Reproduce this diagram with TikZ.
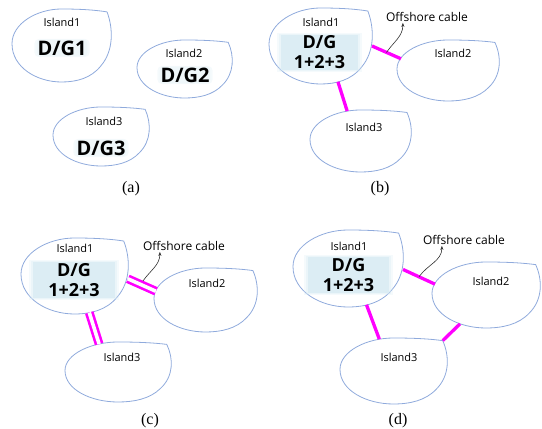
\documentclass[tikz,border=0pt]{standalone}
\usepackage{fontspec}
\setmainfont{Liberation Serif}
\newfontfamily\islfont{Open Sans}
\usetikzlibrary{shapes.geometric,arrows.meta,shadows}

\definecolor{islblue}{HTML}{8FAADC}
\definecolor{glowc}{HTML}{D8EBF3}
\definecolor{cablemag}{HTML}{FF00FF}

\tikzset{
  isl/.style={draw=islblue, line width=0.8pt},
  isl node/.style={ellipse, inner sep=0pt, outer sep=0pt},
  isl label/.style={font=\islfont\fontsize{11}{13}\selectfont},
  dg one/.style={font=\islfont\bfseries\fontsize{20}{22}\selectfont, inner sep=1pt,
    fill=glowc!40, rounded corners=4pt,
    general shadow={fill=glowc, fill opacity=.25, shadow scale=1.08}},
  dg box/.style={font=\islfont\bfseries\fontsize{18}{20}\selectfont, align=center,
    inner sep=0pt, fill=glowc!90,
    general shadow={fill=glowc, fill opacity=.35, shadow scale=1.05},
    general shadow={fill=glowc, fill opacity=.25, shadow scale=1.1}},
  cable/.style={draw=cablemag, line width=3.3pt},
  dcable/.style={draw=cablemag, line width=2.6pt, double=white, double distance=3.6pt},
  off label/.style={font=\islfont\fontsize{12}{14}\selectfont, inner sep=1pt},
  pointer/.style={draw=black!80, line width=0.6pt, -{Stealth[length=4pt,width=3pt]}},
  caption/.style={font=\fontsize{16}{18}\selectfont},
  pics/islandline/.style 2 args={code={
    \draw[isl] (0.92*#1,0.92*#2) .. controls (1.05*#1,0.45*#2) and (1.05*#1,-0.15*#2) .. (0.8*#1,-0.55*#2)
      .. controls (0.6*#1,-0.9*#2) and (0.3*#1,-#2) .. (0,-#2)
      .. controls (-0.5*#1,-#2) and (-#1,-0.6*#2) .. (-#1,0.05*#2)
      .. controls (-#1,0.6*#2) and (-0.5*#1,#2) .. (0,#2)
      .. controls (0.4*#1,#2) and (0.7*#1,0.97*#2) .. (0.92*#1,0.92*#2) -- cycle;
    \coordinate (-tip) at (0.92*#1,0.92*#2);
  }}
}

\begin{document}
\begin{tikzpicture}[x=1pt, y=1pt]
\useasboundingbox (0,0) rectangle (542,429);

% (a) separate islands
\node[isl node, minimum width=99, minimum height=73] (a1) at (61.5,383.5) {};
\pic (a1o) at (a1) {islandline={49.5}{36.5}};
\node[isl node, minimum width=95, minimum height=58] (a2) at (184.5,360) {};
\pic (a2o) at (a2) {islandline={47.5}{29}};
\node[isl node, minimum width=96, minimum height=59] (a3) at (101,292.5) {};
\pic (a3o) at (a3) {islandline={48}{29.5}};
\node[isl label] (a1n) at (62,407) {Island1};
\node[isl label] (a2n) at (184,376) {Island2};
\node[isl label] (a3n) at (104,308) {Island3};
\node[dg one] (a1g) at (62,381) {D/G1};
\node[dg one] (a2g) at (185,354) {D/G2};
\node[dg one] (a3g) at (101,281) {D/G3};
\node[caption] (capa) at (131,240) {(a)};

% (b) radial
\node[isl node, minimum width=103, minimum height=76] (b1) at (320.5,383) {};
\pic (b1o) at (b1) {islandline={51.5}{38}};
\node[isl node, minimum width=102, minimum height=61] (b2) at (448,358.5) {};
\pic (b2o) at (b2) {islandline={51}{30.5}};
\node[isl node, minimum width=101, minimum height=62] (b3) at (360.5,288) {};
\pic (b3o) at (b3) {islandline={50.5}{31}};
\node[isl label] (b1n) at (321,407) {Island1};
\node[isl label] (b2n) at (453,376) {Island2};
\node[isl label] (b3n) at (364,302) {Island3};
\node[dg box, minimum width=77, minimum height=35] (b1g) at (319.5,376.5) {D/G\\1+2+3};
\draw[cable] (b1.0) -- coordinate (bmid) (b2.166);
\draw[cable] (b1.-64) -- (b3.114);
\node[off label] (boff) at (427,412) {Offshore cable};
\draw[pointer] (bmid) to[out=55,in=-90] ([xshift=18]boff.south west);
\node[caption] (capb) at (380,240) {(b)};

% (c) radial, double cables
\node[isl node, minimum width=107, minimum height=76] (c1) at (74.5,153) {};
\pic (c1o) at (c1) {islandline={53.5}{38}};
\node[isl node, minimum width=103, minimum height=64] (c2) at (205.5,129) {};
\pic (c2o) at (c2) {islandline={51.5}{32}};
\node[isl node, minimum width=106, minimum height=60] (c3) at (118,57) {};
\pic (c3o) at (c3) {islandline={53}{30}};
\node[isl label] (c1n) at (75,181) {Island1};
\node[isl label] (c2n) at (207,146) {Island2};
\node[isl label] (c3n) at (122,72) {Island3};
\node[dg box, minimum width=82, minimum height=36] (c1g) at (74,149) {D/G\\1+2+3};
\draw[dcable] (c1.-3) -- coordinate (cmid) (c2.170);
\draw[dcable] (c1.-68) -- (c3.124);
\node[off label] (coff) at (184,183) {Offshore cable};
\draw[pointer] ([shift={(1,4)}]cmid) to[out=55,in=-90] ([xshift=18]coff.south west);
\node[caption] (capc) at (150,8) {(c)};

% (d) ring
\node[isl node, minimum width=110, minimum height=77] (d1) at (348,160.5) {};
\pic (d1o) at (d1) {islandline={55}{38.5}};
\node[isl node, minimum width=108, minimum height=66] (d2) at (486,134) {};
\pic (d2o) at (d2) {islandline={54}{33}};
\node[isl node, minimum width=107, minimum height=66] (d3) at (393.5,58) {};
\pic (d3o) at (d3) {islandline={53.5}{33}};
\node[isl label] (d1n) at (349,183) {Island1};
\node[isl label] (d2n) at (491,148) {Island2};
\node[isl label] (d3n) at (399,72) {Island3};
\node[dg box, minimum width=81, minimum height=36] (d1g) at (348.5,154) {D/G\\1+2+3};
\draw[cable] (d1.-1) -- coordinate (dmid) (d2.168);
\draw[cable] (d1.-63) -- (d3.114);
\draw[cable] (d2.228) -- (d3o-tip);
\node[off label] (doff) at (464,189) {Offshore cable};
\draw[pointer] (dmid) to[out=55,in=-90] ([xshift=20]doff.south west);
\node[caption] (capd) at (398,8) {(d)};
\end{tikzpicture}
\end{document}
